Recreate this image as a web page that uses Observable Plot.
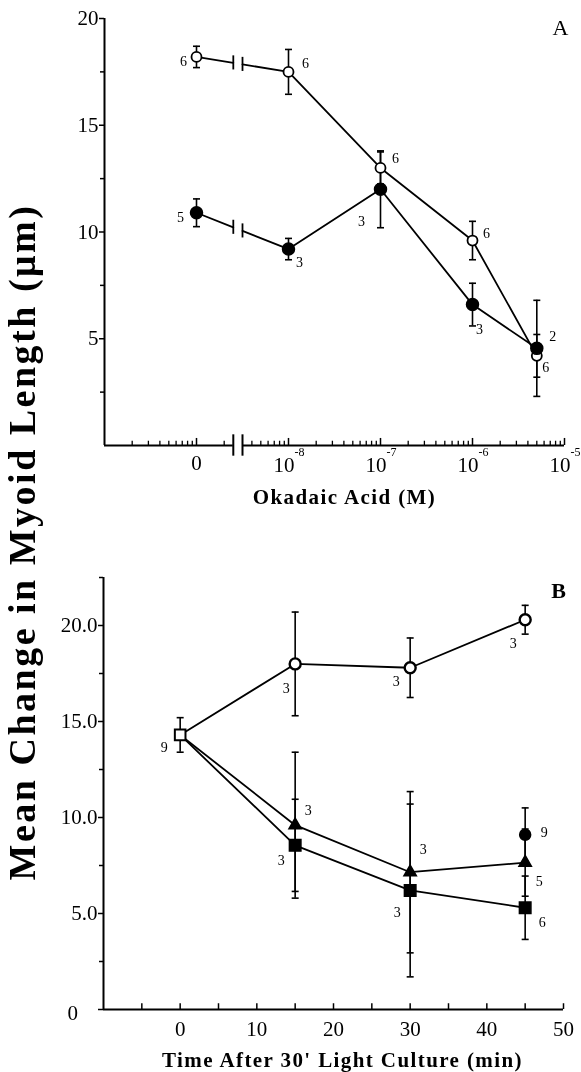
<!DOCTYPE html>
<html><head><meta charset="utf-8">
<script src="https://cdn.jsdelivr.net/npm/d3@7"></script>
<script src="https://cdn.jsdelivr.net/npm/@observablehq/plot@0.6"></script>
<style>
body{margin:0;background:#fff;}
#wrap{position:relative;width:581px;height:1072px;overflow:hidden;background:#fff;filter:grayscale(1);font-family:"Liberation Serif","Times New Roman",Times,serif;}
#ytitle{position:absolute;left:-378px;top:523px;width:800px;height:38px;line-height:38px;text-align:center;font-weight:bold;font-size:38px;font-family:"Liberation Serif","Times New Roman",Times,serif;letter-spacing:2.5px;transform:rotate(-90deg);transform-origin:50% 50%;white-space:nowrap;color:#000;}
</style></head><body>
<div id="wrap">
  <div id="pa" style="position:absolute;left:0;top:0"></div>
  <div id="pb" style="position:absolute;left:0;top:520px"></div>
  <div id="ytitle">Mean Change in Myoid Length (μm)</div>
</div>
<script>
// ---------- Panel A data ----------
const concA = [0, 1e-8, 1e-7, 1e-6, 5e-6];
const openMeanA = [18.2, 17.5, 13.0, 9.6, 4.2];
const openErrA  = [0.5, 1.05, 0.75, 0.9, 1.0];
const openNA    = [6, 6, 6, 6, 6];
const fillMeanA = [10.9, 9.2, 12.0, 6.6, 4.55];
const fillErrA  = [0.65, 0.5, 1.8, 1.0, 2.25];
const fillNA    = [5, 3, 3, 3, 2];
const xTicksA = [0, 1e-8, 1e-7, 1e-6, 1e-5];
const yTicksA = [5, 10, 15, 20];
const yMinorA = [2.5, 7.5, 12.5, 17.5];
const xTitleA = "Okadaic Acid (M)";

// ---------- Panel B data ----------
const timeB = [0, 15, 30, 45];
const openMeanB = [14.3, 18.0, 17.8, 20.3];
const openErrB  = [0.9, 2.7, 1.55, 0.75];
const openNB    = [9, 3, 3, 3];
const triMeanB  = [14.3, 9.6, 7.15, 7.65];
const triErrB   = [0.9, 3.8, 4.2, 1.75];
const triNB     = [9, 3, 3, 5];
const sqMeanB   = [14.3, 8.55, 6.2, 5.3];
const sqErrB    = [0.9, 2.4, 4.5, 1.65];
const sqNB      = [9, 3, 3, 6];
const dotTimeB  = [45];
const dotMeanB  = [9.1];
const dotErrB   = [1.4];
const dotNB     = [9];
const xTicksB = [0, 10, 20, 30, 40, 50];
const xMinorB = [-5, 5, 15, 25, 35, 45];
const yTicksB = [0, 5, 10, 15, 20];
const yMinorB = [2.5, 7.5, 12.5, 17.5, 22.5];
const xTitleB = "Time After 30' Light Culture (min)";

// ---------- layout (label offsets in px) ----------
const labOffA = {
  open: [[-13, 5], [17, -8], [15, -9], [14, -7], [9, 12]],
  fill: [[-16, 5], [11, 13], [-19, 32], [7, 25], [16, -12]]
};
const labOffB = {
  start: [-16, 13],
  open: [null, [-9, 25], [-14, 14], [-12, 24]],
  tri:  [null, [13, -15], [13, -23], [14, 19]],
  sq:   [null, [-14, 15], [-13, 22], [17, 15]],
  dot:  [[19, -2]]
};

const FONT = '"Liberation Serif","Times New Roman",Times,serif';
const ZERO = -9, BL = -8.6, BR = -8.5;   // log-position of "0" and the axis break
const lx = c => c === 0 ? ZERO : Math.log10(c);

function rows(xs, mean, err, n, s, xf) {
  return xs.map((c, i) => ({x: xf(c), y: mean[i], e: err[i], n: n[i], i, s}));
}
const capSym = {draw(ctx, size) { const w = Math.sqrt(size / Math.PI); ctx.moveTo(-w, 0); ctx.lineTo(w, 0); }};
function errMarks(data) {
  return [
    Plot.ruleX(data, {x: "x", y1: d => d.y - d.e, y2: d => d.y + d.e, stroke: "black", strokeWidth: 1.6}),
    Plot.dot(data, {x: "x", y: d => d.y + d.e, symbol: capSym, r: 3.5, stroke: "black", fill: "none", strokeWidth: 1.6}),
    Plot.dot(data, {x: "x", y: d => d.y - d.e, symbol: capSym, r: 3.5, stroke: "black", fill: "none", strokeWidth: 1.6})
  ];
}
function labelMarks(data, offs) {
  return data.map((d, k) => {
    const o = offs[k];
    if (!o) return null;
    return Plot.text([d], {x: "x", y: "y", text: d => String(d.n), dx: o[0], dy: o[1], fontSize: 14});
  }).filter(Boolean);
}

// ---------- Panel A ----------
const openA = rows(concA, openMeanA, openErrA, openNA, "open", lx);
const fillA = rows(concA, fillMeanA, fillErrA, fillNA, "fill", lx);
function broken(r) {
  const a = r[0], b = r[1];
  const f = x => a.y + (b.y - a.y) * (x - a.x) / (b.x - a.x);
  const s = a.s;
  return {
    line: [{x: a.x, y: a.y, g: s + "0"}, {x: BL, y: f(BL), g: s + "0"}, {x: BR, y: f(BR), g: s + "1"},
           ...r.slice(1).map(d => ({x: d.x, y: d.y, g: s + "1"}))],
    bars: [{x: BL, y: f(BL)}, {x: BR, y: f(BR)}]
  };
}
const bo = broken(openA), bf = broken(fillA);
const minorA = [];
for (let d = -10; d < -5; d++) for (let k = 2; k <= 9; k++) {
  const v = d + Math.log10(k);
  if (v > BL - 0.04 && v < BR + 0.04) continue;
  minorA.push(v);
}
const majorA = xTicksA.map(lx);

const styleObj = {fontFamily: FONT, fontSize: "21px", color: "black", background: "white", overflow: "visible"};

const plotA = Plot.plot({
  width: 581, height: 520,
  marginLeft: 104, marginRight: 17, marginTop: 18, marginBottom: 75,
  x: {type: "linear", domain: [-10, -5], axis: null},
  y: {domain: [0, 20]},
  style: styleObj,
  marks: [
    Plot.ruleX([-10], {y1: 0, y2: 20, strokeWidth: 2}),
    Plot.ruleY([{x1: -10, x2: BL}, {x1: BR, x2: -5}], {x1: "x1", x2: "x2", y: 0, strokeWidth: 2}),
    Plot.ruleX([BL, BR], {x: d => d, y1: -0.5, y2: 0.5, strokeWidth: 2}),
    Plot.ruleX(minorA, {x: d => d, y1: 0, y2: 0.2, strokeWidth: 1.3}),
    Plot.ruleX(majorA, {x: d => d, y1: 0, y2: 0.33, strokeWidth: 1.5}),
    Plot.axisY({ticks: yTicksA, tickSize: 5, tickPadding: 1, fontSize: 21, strokeWidth: 1.5, label: null}),
    Plot.axisY({ticks: yMinorA, tickSize: 4, tickFormat: () => "", strokeWidth: 1.5, label: null}),
    Plot.text([xTicksA[0]], {x: lx, y: 0, text: () => "0", dy: 18, fontSize: 21}),
    Plot.text(xTicksA.slice(1), {x: lx, y: 0, text: () => "10", dy: 20, dx: 6, textAnchor: "end", fontSize: 21}),
    Plot.text(xTicksA.slice(1), {x: lx, y: 0, text: c => String(Math.round(Math.log10(c))), dy: 7, dx: 6, textAnchor: "start", fontSize: 12}),
    Plot.text([xTitleA], {text: d => d, frameAnchor: "bottom", textAnchor: "middle", lineAnchor: "middle", dx: 10, dy: 52, fontSize: 21, fontWeight: "bold"}),
    Plot.text(["A"], {text: d => d, frameAnchor: "top-right", textAnchor: "middle", lineAnchor: "middle", dx: -4, dy: 9, fontSize: 22}),
    Plot.line([...bo.line, ...bf.line], {x: "x", y: "y", z: "g", stroke: "black", strokeWidth: 1.8}),
    Plot.ruleX([...bo.bars, ...bf.bars], {x: "x", y1: d => d.y - 0.33, y2: d => d.y + 0.33, strokeWidth: 1.8}),
    ...errMarks(openA),
    ...errMarks(fillA),
    Plot.dot(openA, {x: "x", y: "y", r: 5, fill: "white", stroke: "black", strokeWidth: 1.8}),
    Plot.dot(fillA, {x: "x", y: "y", r: 6, fill: "black", stroke: "black"}),
    ...labelMarks(openA, labOffA.open),
    ...labelMarks(fillA, labOffA.fill)
  ]
});

// ---------- Panel B ----------
const idt = t => t;
const openB = rows(timeB, openMeanB, openErrB, openNB, "open", idt);
const triB  = rows(timeB, triMeanB, triErrB, triNB, "tri", idt);
const sqB   = rows(timeB, sqMeanB, sqErrB, sqNB, "sq", idt);
const dotB  = rows(dotTimeB, dotMeanB, dotErrB, dotNB, "dot", idt);
const startB = [openB[0]];

const plotB = Plot.plot({
  width: 581, height: 552,
  marginLeft: 103, marginRight: 18, marginTop: 57, marginBottom: 63,
  x: {type: "linear", domain: [-10, 50], axis: null},
  y: {domain: [0, 22.5]},
  style: styleObj,
  marks: [
    Plot.ruleX([-10], {y1: 0, y2: 22.5, strokeWidth: 2}),
    Plot.ruleY([0], {x1: -10, x2: 50, strokeWidth: 2}),
    Plot.ruleX([...xTicksB, ...xMinorB], {x: d => d, y1: 0, y2: 0.3, strokeWidth: 1.5}),
    Plot.axisY({ticks: yTicksB, tickSize: 5, tickPadding: 1, fontSize: 21, strokeWidth: 1.5, label: null,
                tickFormat: d => d === 0 ? "" : d.toFixed(1)}),
    Plot.axisY({ticks: yMinorB, tickSize: 4, tickFormat: () => "", strokeWidth: 1.5, label: null}),
    Plot.text([yTicksB[0]], {x: -10, y: d => d, text: d => String(d), dx: -36, dy: 4, textAnchor: "start", fontSize: 21}),
    Plot.text(xTicksB, {x: d => d, y: 0, text: d => String(d), dy: 20, fontSize: 21}),
    Plot.text([xTitleB], {text: d => d, frameAnchor: "bottom", textAnchor: "middle", lineAnchor: "middle", dx: 9, dy: 51, fontSize: 21, fontWeight: "bold"}),
    Plot.text(["B"], {text: d => d, frameAnchor: "top-right", textAnchor: "middle", lineAnchor: "middle", dx: -5, dy: 13, fontSize: 22, fontWeight: "bold"}),
    Plot.line([...openB, ...triB, ...sqB], {x: "x", y: "y", z: "s", stroke: "black", strokeWidth: 1.8}),
    ...errMarks(startB),
    ...errMarks(openB.slice(1)),
    ...errMarks(triB.slice(1)),
    ...errMarks(sqB.slice(1)),
    ...errMarks(dotB),
    Plot.dot(startB, {x: "x", y: "y", symbol: "square", r: 6, fill: "white", stroke: "black", strokeWidth: 2}),
    Plot.dot(openB.slice(1), {x: "x", y: "y", r: 5.5, fill: "white", stroke: "black", strokeWidth: 2.4}),
    Plot.dot(dotB, {x: "x", y: "y", r: 5.5, fill: "black", stroke: "black"}),
    Plot.dot(triB.slice(1), {x: "x", y: "y", symbol: "triangle", r: 4.6, fill: "black", stroke: "black"}),
    Plot.dot(sqB.slice(1), {x: "x", y: "y", symbol: "square", r: 6.5, fill: "black", stroke: "black"}),
    ...labelMarks(startB, [labOffB.start]),
    ...labelMarks(openB, labOffB.open),
    ...labelMarks(triB, labOffB.tri),
    ...labelMarks(sqB, labOffB.sq),
    ...labelMarks(dotB, labOffB.dot)
  ]
});

document.getElementById("pa").appendChild(plotA);
document.getElementById("pb").appendChild(plotB);
for (const svg of [plotA, plotB]) {
  svg.querySelectorAll("text").forEach(t => {
    if (t.textContent === xTitleA || t.textContent === xTitleB) t.style.letterSpacing = "1.4px";
  });
}
</script>
</body></html>
